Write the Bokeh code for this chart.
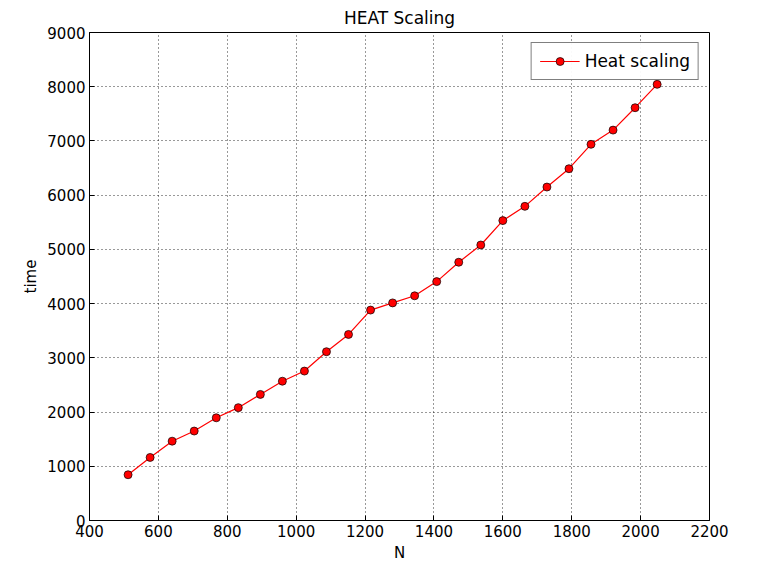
from bokeh.plotting import figure
from bokeh.models import Range1d, FixedTicker, Legend, LegendItem
from bokeh.embed import file_html
from bokeh.resources import INLINE

n_values = [512, 576, 640, 704, 768, 832, 896, 960, 1024, 1088, 1152, 1216, 1280,
            1344, 1408, 1472, 1536, 1600, 1664, 1728, 1792, 1856, 1920, 1984, 2048]
times = [844, 1163, 1463, 1650, 1894, 2081, 2325, 2569, 2756, 3113, 3431, 3881, 4013,
         4144, 4406, 4763, 5081, 5531, 5794, 6150, 6488, 6938, 7200, 7613, 8044]

FONT = "DejaVu Sans"

p = figure(width=750, height=564, output_backend="svg", toolbar_location=None,
           title="HEAT Scaling", x_axis_label="N", y_axis_label="time",
           x_range=Range1d(400, 2200), y_range=Range1d(0, 9000),
           min_border_left=89, min_border_right=41, min_border_top=26,
           min_border_bottom=20)
p.title.align = "center"
p.title.text_font = FONT
p.title.text_font_size = "17px"
p.title.text_font_style = "normal"
p.title.text_color = "black"

p.outline_line_color = "black"
p.background_fill_color = "white"
p.border_fill_color = "white"

p.xaxis.ticker = FixedTicker(ticks=list(range(400, 2201, 200)))
p.yaxis.ticker = FixedTicker(ticks=list(range(0, 9001, 1000)))
for ax in (p.xaxis, p.yaxis):
    ax.major_tick_in = 5
    ax.major_tick_out = 0
    ax.minor_tick_line_color = None
    ax.major_label_text_font = FONT
    ax.major_label_text_font_size = "15px"
    ax.major_label_text_color = "black"
    ax.axis_label_text_font = FONT
    ax.axis_label_text_font_size = "15px"
    ax.axis_label_text_font_style = "normal"
    ax.axis_label_text_color = "black"
    ax.axis_line_color = "black"
    ax.axis_label_standoff = 4
    ax.major_label_standoff = 4

p.grid.grid_line_color = "black"
p.grid.grid_line_dash = "1 3"
p.grid.grid_line_alpha = 0.8

ln = p.line(n_values, times, line_color="red", line_width=1.2)
pts = p.scatter(n_values, times, size=8, fill_color="red", line_color="black", line_width=0.7)

legend = Legend(items=[LegendItem(label="Heat scaling", renderers=[ln, pts])],
                location="top_right", label_text_font=FONT, label_text_font_size="17px",
                label_text_color="black",
                border_line_color="black", border_line_width=1.2,
                margin=10, padding=8, glyph_width=40, spacing=0)
p.add_layout(legend)

open("out.html", "w").write(file_html(p, INLINE))
